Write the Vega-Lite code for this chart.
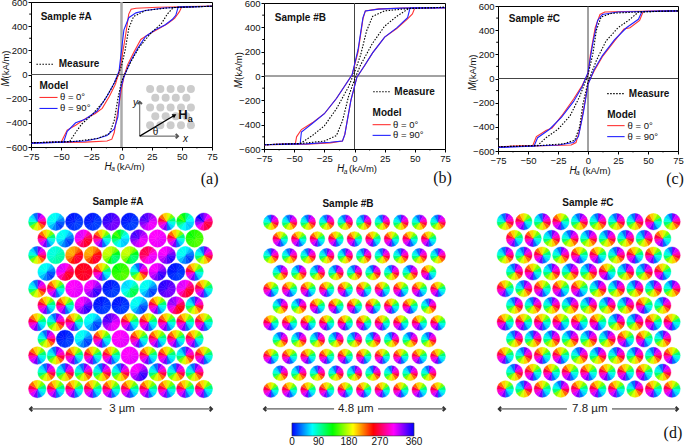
{"$schema":"https://vega.github.io/schema/vega-lite/v6.json","padding":{"left":0,"top":-4,"right":0,"bottom":0},"background":"white","config":{"view":{"stroke":null},"font":"Liberation Sans","axis":{"domainColor":"#000","tickColor":"#000","labelColor":"#111","labelFontSize":9.5,"labelPadding":1,"tickSize":3,"grid":false,"title":null,"labelOverlap":false,"labelFlush":false}},
"datasets":{
"mx":[{"x":-62.5,"y":-600,"y2":-612},{"x":-37.5,"y":-600,"y2":-612},{"x":-12.5,"y":-600,"y2":-612},{"x":12.5,"y":-600,"y2":-612},{"x":37.5,"y":-600,"y2":-612},{"x":62.5,"y":-600,"y2":-612}],
"my":[{"x":-75,"x2":-76.5,"y":-500},{"x":-75,"x2":-76.5,"y":-300},{"x":-75,"x2":-76.5,"y":-100},{"x":-75,"x2":-76.5,"y":100},{"x":-75,"x2":-76.5,"y":300},{"x":-75,"x2":-76.5,"y":500}],
"kinds":[
{"k":"p","h":[345,315,285,255,225,195,165,135,105,75,45,15],"t":[0,30,60,90,120,150,180,210,240,270,300,330],"u":[30,60,90,120,150,180,210,240,270,300,330,360]},
{"k":"n","h":[165,135,105,75,45,15,345,315,285,255,225,195],"t":[0,30,60,90,120,150,180,210,240,270,300,330],"u":[30,60,90,120,150,180,210,240,270,300,330,360]},
{"k":"cb","h":[54,38,21,10,5,10,21,38,54,65,70,65],"t":[0,30,60,90,120,150,180,210,240,270,300,330],"u":[30,60,90,120,150,180,210,240,270,300,330,360]},
{"k":"b","h":[2,3,4,5,6,5,4,3,2,1,1,1],"t":[0,30,60,90,120,150,180,210,240,270,300,330],"u":[30,60,90,120,150,180,210,240,270,300,330,360]},
{"k":"bb","h":[355,352,348,346,345,346,348,352,355,357,358,357],"t":[0,30,60,90,120,150,180,210,240,270,300,330],"u":[30,60,90,120,150,180,210,240,270,300,330,360]},
{"k":"bm","h":[342,330,317,308,305,308,317,330,342,351,355,351],"t":[0,30,60,90,120,150,180,210,240,270,300,330],"u":[30,60,90,120,150,180,210,240,270,300,330,360]},
{"k":"mb","h":[315,329,344,354,358,354,344,329,315,304,300,304],"t":[0,30,60,90,120,150,180,210,240,270,300,330],"u":[30,60,90,120,150,180,210,240,270,300,330,360]},
{"k":"m","h":[302,304,306,308,310,308,306,304,302,300,300,300],"t":[0,30,60,90,120,150,180,210,240,270,300,330],"u":[30,60,90,120,150,180,210,240,270,300,330,360]},
{"k":"r","h":[245,245,246,247,248,247,246,245,245,244,243,244],"t":[0,30,60,90,120,150,180,210,240,270,300,330],"u":[30,60,90,120,150,180,210,240,270,300,330,360]},
{"k":"ro","h":[216,228,239,247,250,247,239,228,216,208,205,208],"t":[0,30,60,90,120,150,180,210,240,270,300,330],"u":[30,60,90,120,150,180,210,240,270,300,330,360]},
{"k":"rm","h":[269,283,296,306,310,306,296,283,269,259,255,259],"t":[0,30,60,90,120,150,180,210,240,270,300,330],"u":[30,60,90,120,150,180,210,240,270,300,330,360]},
{"k":"mr","h":[298,280,263,250,245,250,263,280,298,310,315,310],"t":[0,30,60,90,120,150,180,210,240,270,300,330],"u":[30,60,90,120,150,180,210,240,270,300,330,360]},
{"k":"br","h":[332,305,277,258,250,258,277,305,332,352,360,352],"t":[0,30,60,90,120,150,180,210,240,270,300,330],"u":[30,60,90,120,150,180,210,240,270,300,330,360]},
{"k":"rb","h":[315,290,265,247,240,247,265,290,315,333,340,333],"t":[0,30,60,90,120,150,180,210,240,270,300,330],"u":[30,60,90,120,150,180,210,240,270,300,330,360]},
{"k":"g","h":[122,123,124,126,128,126,124,123,122,121,120,121],"t":[0,30,60,90,120,150,180,210,240,270,300,330],"u":[30,60,90,120,150,180,210,240,270,300,330,360]},
{"k":"c","h":[80,85,90,94,95,94,90,85,80,76,75,76],"t":[0,30,60,90,120,150,180,210,240,270,300,330],"u":[30,60,90,120,150,180,210,240,270,300,330,360]},
{"k":"yg","h":[146,132,119,109,105,109,119,132,146,156,160,156],"t":[0,30,60,90,120,150,180,210,240,270,300,330],"u":[30,60,90,120,150,180,210,240,270,300,330,360]},
{"k":"cg","h":[62,80,97,110,115,110,97,80,62,50,45,50],"t":[0,30,60,90,120,150,180,210,240,270,300,330],"u":[30,60,90,120,150,180,210,240,270,300,330,360]},
{"k":"gc","h":[104,82,61,46,40,46,61,82,104,119,125,119],"t":[0,30,60,90,120,150,180,210,240,270,300,330],"u":[30,60,90,120,150,180,210,240,270,300,330,360]}
],
"da":[
{"x":1,"y":1,"k":"p"},{"x":2,"y":1,"k":"cb"},{"x":3,"y":1,"k":"b"},{"x":4,"y":1,"k":"b"},{"x":5,"y":1,"k":"bb"},{"x":6,"y":1,"k":"b"},{"x":7,"y":1,"k":"bm"},{"x":8,"y":1,"k":"n"},{"x":9,"y":1,"k":"gc"},{"x":10,"y":1,"k":"br"},
{"x":1.5,"y":2,"k":"n"},{"x":2.5,"y":2,"k":"cb"},{"x":3.5,"y":2,"k":"mr"},{"x":4.5,"y":2,"k":"n"},{"x":5.5,"y":2,"k":"gc"},{"x":6.5,"y":2,"k":"bm"},{"x":7.5,"y":2,"k":"m"},{"x":8.5,"y":2,"k":"n"},{"x":9.5,"y":2,"k":"g"},
{"x":1,"y":3,"k":"p"},{"x":2,"y":3,"k":"c"},{"x":3,"y":3,"k":"ro"},{"x":4,"y":3,"k":"ro"},{"x":5,"y":3,"k":"yg"},{"x":6,"y":3,"k":"yg"},{"x":7,"y":3,"k":"rm"},{"x":8,"y":3,"k":"mb"},{"x":9,"y":3,"k":"cb"},{"x":10,"y":3,"k":"p"},
{"x":1.5,"y":4,"k":"cb"},{"x":2.5,"y":4,"k":"mr"},{"x":3.5,"y":4,"k":"r"},{"x":4.5,"y":4,"k":"n"},{"x":5.5,"y":4,"k":"g"},{"x":6.5,"y":4,"k":"p"},{"x":7.5,"y":4,"k":"mb"},{"x":8.5,"y":4,"k":"b"},{"x":9.5,"y":4,"k":"n"},
{"x":1,"y":5,"k":"p"},{"x":2,"y":5,"k":"n"},{"x":3,"y":5,"k":"m"},{"x":4,"y":5,"k":"mb"},{"x":5,"y":5,"k":"b"},{"x":6,"y":5,"k":"cg"},{"x":7,"y":5,"k":"cb"},{"x":8,"y":5,"k":"bb"},{"x":9,"y":5,"k":"mr"},{"x":10,"y":5,"k":"n"},
{"x":1.5,"y":6,"k":"n"},{"x":2.5,"y":6,"k":"n"},{"x":3.5,"y":6,"k":"mb"},{"x":4.5,"y":6,"k":"b"},{"x":5.5,"y":6,"k":"b"},{"x":6.5,"y":6,"k":"cb"},{"x":7.5,"y":6,"k":"n"},{"x":8.5,"y":6,"k":"rb"},{"x":9.5,"y":6,"k":"p"},
{"x":1,"y":7,"k":"n"},{"x":2,"y":7,"k":"p"},{"x":3,"y":7,"k":"n"},{"x":4,"y":7,"k":"cb"},{"x":5,"y":7,"k":"bm"},{"x":6,"y":7,"k":"n"},{"x":7,"y":7,"k":"n"},{"x":8,"y":7,"k":"n"},{"x":9,"y":7,"k":"n"},{"x":10,"y":7,"k":"n"},
{"x":1.5,"y":8,"k":"p"},{"x":2.5,"y":8,"k":"b"},{"x":3.5,"y":8,"k":"cb"},{"x":4.5,"y":8,"k":"n"},{"x":5.5,"y":8,"k":"m"},{"x":6.5,"y":8,"k":"n"},{"x":7.5,"y":8,"k":"n"},{"x":8.5,"y":8,"k":"n"},{"x":9.5,"y":8,"k":"n"},
{"x":1,"y":9,"k":"n"},{"x":2,"y":9,"k":"p"},{"x":3,"y":9,"k":"n"},{"x":4,"y":9,"k":"n"},{"x":5,"y":9,"k":"n"},{"x":6,"y":9,"k":"m"},{"x":7,"y":9,"k":"n"},{"x":8,"y":9,"k":"n"},{"x":9,"y":9,"k":"p"},{"x":10,"y":9,"k":"n"},
{"x":1.5,"y":10,"k":"p"},{"x":2.5,"y":10,"k":"p"},{"x":3.5,"y":10,"k":"p"},{"x":4.5,"y":10,"k":"p"},{"x":5.5,"y":10,"k":"p"},{"x":6.5,"y":10,"k":"mb"},{"x":7.5,"y":10,"k":"p"},{"x":8.5,"y":10,"k":"p"},{"x":9.5,"y":10,"k":"p"},
{"x":1,"y":11,"k":"n"},{"x":2,"y":11,"k":"n"},{"x":3,"y":11,"k":"n"},{"x":4,"y":11,"k":"n"},{"x":5,"y":11,"k":"n"},{"x":6,"y":11,"k":"n"},{"x":7,"y":11,"k":"n"},{"x":8,"y":11,"k":"n"},{"x":9,"y":11,"k":"n"},{"x":10,"y":11,"k":"n"}
],
"db":[
{"x":1,"y":1,"k":"p"},{"x":2,"y":1,"k":"p"},{"x":3,"y":1,"k":"p"},{"x":4,"y":1,"k":"p"},{"x":5,"y":1,"k":"p"},{"x":6,"y":1,"k":"p"},{"x":7,"y":1,"k":"p"},{"x":8,"y":1,"k":"p"},{"x":9,"y":1,"k":"p"},{"x":10,"y":1,"k":"p"},
{"x":1.5,"y":2,"k":"n"},{"x":2.5,"y":2,"k":"n"},{"x":3.5,"y":2,"k":"n"},{"x":4.5,"y":2,"k":"n"},{"x":5.5,"y":2,"k":"n"},{"x":6.5,"y":2,"k":"n"},{"x":7.5,"y":2,"k":"n"},{"x":8.5,"y":2,"k":"n"},{"x":9.5,"y":2,"k":"n"},
{"x":1,"y":3,"k":"p"},{"x":2,"y":3,"k":"p"},{"x":3,"y":3,"k":"p"},{"x":4,"y":3,"k":"p"},{"x":5,"y":3,"k":"p"},{"x":6,"y":3,"k":"p"},{"x":7,"y":3,"k":"p"},{"x":8,"y":3,"k":"p"},{"x":9,"y":3,"k":"p"},{"x":10,"y":3,"k":"p"},
{"x":1.5,"y":4,"k":"p"},{"x":2.5,"y":4,"k":"p"},{"x":3.5,"y":4,"k":"p"},{"x":4.5,"y":4,"k":"p"},{"x":5.5,"y":4,"k":"p"},{"x":6.5,"y":4,"k":"p"},{"x":7.5,"y":4,"k":"p"},{"x":8.5,"y":4,"k":"p"},{"x":9.5,"y":4,"k":"n"},
{"x":1,"y":5,"k":"n"},{"x":2,"y":5,"k":"n"},{"x":3,"y":5,"k":"n"},{"x":4,"y":5,"k":"n"},{"x":5,"y":5,"k":"n"},{"x":6,"y":5,"k":"n"},{"x":7,"y":5,"k":"n"},{"x":8,"y":5,"k":"n"},{"x":9,"y":5,"k":"n"},{"x":10,"y":5,"k":"n"},
{"x":1.5,"y":6,"k":"p"},{"x":2.5,"y":6,"k":"p"},{"x":3.5,"y":6,"k":"n"},{"x":4.5,"y":6,"k":"n"},{"x":5.5,"y":6,"k":"n"},{"x":6.5,"y":6,"k":"n"},{"x":7.5,"y":6,"k":"n"},{"x":8.5,"y":6,"k":"n"},{"x":9.5,"y":6,"k":"p"},
{"x":1,"y":7,"k":"n"},{"x":2,"y":7,"k":"n"},{"x":3,"y":7,"k":"n"},{"x":4,"y":7,"k":"n"},{"x":5,"y":7,"k":"n"},{"x":6,"y":7,"k":"n"},{"x":7,"y":7,"k":"n"},{"x":8,"y":7,"k":"n"},{"x":9,"y":7,"k":"n"},{"x":10,"y":7,"k":"n"},
{"x":1.5,"y":8,"k":"p"},{"x":2.5,"y":8,"k":"p"},{"x":3.5,"y":8,"k":"p"},{"x":4.5,"y":8,"k":"p"},{"x":5.5,"y":8,"k":"p"},{"x":6.5,"y":8,"k":"p"},{"x":7.5,"y":8,"k":"p"},{"x":8.5,"y":8,"k":"p"},{"x":9.5,"y":8,"k":"p"},
{"x":1,"y":9,"k":"n"},{"x":2,"y":9,"k":"n"},{"x":3,"y":9,"k":"n"},{"x":4,"y":9,"k":"n"},{"x":5,"y":9,"k":"n"},{"x":6,"y":9,"k":"n"},{"x":7,"y":9,"k":"n"},{"x":8,"y":9,"k":"n"},{"x":9,"y":9,"k":"n"},{"x":10,"y":9,"k":"n"},
{"x":1.5,"y":10,"k":"p"},{"x":2.5,"y":10,"k":"p"},{"x":3.5,"y":10,"k":"p"},{"x":4.5,"y":10,"k":"p"},{"x":5.5,"y":10,"k":"p"},{"x":6.5,"y":10,"k":"p"},{"x":7.5,"y":10,"k":"p"},{"x":8.5,"y":10,"k":"p"},{"x":9.5,"y":10,"k":"p"},
{"x":1,"y":11,"k":"n"},{"x":2,"y":11,"k":"n"},{"x":3,"y":11,"k":"n"},{"x":4,"y":11,"k":"n"},{"x":5,"y":11,"k":"n"},{"x":6,"y":11,"k":"n"},{"x":7,"y":11,"k":"n"},{"x":8,"y":11,"k":"n"},{"x":9,"y":11,"k":"n"},{"x":10,"y":11,"k":"n"}
],
"dc":[
{"x":1,"y":1,"k":"p"},{"x":2,"y":1,"k":"n"},{"x":3,"y":1,"k":"p"},{"x":4,"y":1,"k":"n"},{"x":5,"y":1,"k":"p"},{"x":6,"y":1,"k":"p"},{"x":7,"y":1,"k":"p"},{"x":8,"y":1,"k":"p"},{"x":9,"y":1,"k":"n"},{"x":10,"y":1,"k":"p"},
{"x":1.5,"y":2,"k":"n"},{"x":2.5,"y":2,"k":"n"},{"x":3.5,"y":2,"k":"p"},{"x":4.5,"y":2,"k":"p"},{"x":5.5,"y":2,"k":"p"},{"x":6.5,"y":2,"k":"p"},{"x":7.5,"y":2,"k":"p"},{"x":8.5,"y":2,"k":"p"},{"x":9.5,"y":2,"k":"n"},
{"x":1,"y":3,"k":"p"},{"x":2,"y":3,"k":"p"},{"x":3,"y":3,"k":"n"},{"x":4,"y":3,"k":"p"},{"x":5,"y":3,"k":"n"},{"x":6,"y":3,"k":"n"},{"x":7,"y":3,"k":"p"},{"x":8,"y":3,"k":"n"},{"x":9,"y":3,"k":"n"},{"x":10,"y":3,"k":"p"},
{"x":1.5,"y":4,"k":"p"},{"x":2.5,"y":4,"k":"n"},{"x":3.5,"y":4,"k":"p"},{"x":4.5,"y":4,"k":"p"},{"x":5.5,"y":4,"k":"p"},{"x":6.5,"y":4,"k":"n"},{"x":7.5,"y":4,"k":"p"},{"x":8.5,"y":4,"k":"p"},{"x":9.5,"y":4,"k":"n"},
{"x":1,"y":5,"k":"n"},{"x":2,"y":5,"k":"p"},{"x":3,"y":5,"k":"n"},{"x":4,"y":5,"k":"n"},{"x":5,"y":5,"k":"n"},{"x":6,"y":5,"k":"p"},{"x":7,"y":5,"k":"p"},{"x":8,"y":5,"k":"p"},{"x":9,"y":5,"k":"p"},{"x":10,"y":5,"k":"p"},
{"x":1.5,"y":6,"k":"p"},{"x":2.5,"y":6,"k":"p"},{"x":3.5,"y":6,"k":"p"},{"x":4.5,"y":6,"k":"p"},{"x":5.5,"y":6,"k":"p"},{"x":6.5,"y":6,"k":"p"},{"x":7.5,"y":6,"k":"p"},{"x":8.5,"y":6,"k":"n"},{"x":9.5,"y":6,"k":"p"},
{"x":1,"y":7,"k":"n"},{"x":2,"y":7,"k":"n"},{"x":3,"y":7,"k":"n"},{"x":4,"y":7,"k":"n"},{"x":5,"y":7,"k":"n"},{"x":6,"y":7,"k":"n"},{"x":7,"y":7,"k":"p"},{"x":8,"y":7,"k":"p"},{"x":9,"y":7,"k":"n"},{"x":10,"y":7,"k":"n"},
{"x":1.5,"y":8,"k":"p"},{"x":2.5,"y":8,"k":"p"},{"x":3.5,"y":8,"k":"p"},{"x":4.5,"y":8,"k":"p"},{"x":5.5,"y":8,"k":"p"},{"x":6.5,"y":8,"k":"p"},{"x":7.5,"y":8,"k":"n"},{"x":8.5,"y":8,"k":"n"},{"x":9.5,"y":8,"k":"p"},
{"x":1,"y":9,"k":"n"},{"x":2,"y":9,"k":"p"},{"x":3,"y":9,"k":"n"},{"x":4,"y":9,"k":"n"},{"x":5,"y":9,"k":"p"},{"x":6,"y":9,"k":"p"},{"x":7,"y":9,"k":"p"},{"x":8,"y":9,"k":"p"},{"x":9,"y":9,"k":"p"},{"x":10,"y":9,"k":"n"},
{"x":1.5,"y":10,"k":"p"},{"x":2.5,"y":10,"k":"n"},{"x":3.5,"y":10,"k":"n"},{"x":4.5,"y":10,"k":"n"},{"x":5.5,"y":10,"k":"n"},{"x":6.5,"y":10,"k":"n"},{"x":7.5,"y":10,"k":"n"},{"x":8.5,"y":10,"k":"n"},{"x":9.5,"y":10,"k":"p"},
{"x":1,"y":11,"k":"n"},{"x":2,"y":11,"k":"p"},{"x":3,"y":11,"k":"n"},{"x":4,"y":11,"k":"p"},{"x":5,"y":11,"k":"n"},{"x":6,"y":11,"k":"n"},{"x":7,"y":11,"k":"n"},{"x":8,"y":11,"k":"p"},{"x":9,"y":11,"k":"n"},{"x":10,"y":11,"k":"n"}
],
"ca":[
{"s":"r","b":"d","x":75,"y":565},{"s":"r","b":"d","x":50,"y":562},{"s":"r","b":"d","x":48,"y":520},{"s":"r","b":"d","x":44,"y":465},{"s":"r","b":"d","x":38,"y":420},{"s":"r","b":"d","x":30,"y":375},{"s":"r","b":"d","x":22,"y":330},{"s":"r","b":"d","x":16,"y":290},{"s":"r","b":"d","x":10,"y":180},{"s":"r","b":"d","x":5,"y":80},{"s":"r","b":"d","x":2,"y":-20},{"s":"r","b":"d","x":0,"y":-120},{"s":"r","b":"d","x":-3,"y":-300},{"s":"r","b":"d","x":-6,"y":-480},{"s":"r","b":"d","x":-8,"y":-535},{"s":"r","b":"d","x":-12,"y":-550},{"s":"r","b":"d","x":-30,"y":-560},{"s":"r","b":"d","x":-75,"y":-565},
{"s":"r","b":"a","x":-75,"y":-565},{"s":"r","b":"a","x":-50,"y":-560},{"s":"r","b":"a","x":-48,"y":-520},{"s":"r","b":"a","x":-45,"y":-460},{"s":"r","b":"a","x":-38,"y":-420},{"s":"r","b":"a","x":-30,"y":-365},{"s":"r","b":"a","x":-22,"y":-325},{"s":"r","b":"a","x":-16,"y":-280},{"s":"r","b":"a","x":-10,"y":-180},{"s":"r","b":"a","x":-5,"y":-80},{"s":"r","b":"a","x":-2,"y":20},{"s":"r","b":"a","x":0,"y":120},{"s":"r","b":"a","x":3,"y":300},{"s":"r","b":"a","x":6,"y":500},{"s":"r","b":"a","x":8,"y":540},{"s":"r","b":"a","x":12,"y":548},{"s":"r","b":"a","x":30,"y":556},{"s":"r","b":"a","x":75,"y":565},
{"s":"l","b":"d","x":75,"y":565},{"s":"l","b":"d","x":47,"y":560},{"s":"l","b":"d","x":45,"y":490},{"s":"l","b":"d","x":42,"y":455},{"s":"l","b":"d","x":36,"y":410},{"s":"l","b":"d","x":28,"y":370},{"s":"l","b":"d","x":20,"y":315},{"s":"l","b":"d","x":13,"y":210},{"s":"l","b":"d","x":7,"y":100},{"s":"l","b":"d","x":2,"y":-20},{"s":"l","b":"d","x":-1,"y":-130},{"s":"l","b":"d","x":-3,"y":-350},{"s":"l","b":"d","x":-6,"y":-450},{"s":"l","b":"d","x":-12,"y":-505},{"s":"l","b":"d","x":-20,"y":-530},{"s":"l","b":"d","x":-30,"y":-550},{"s":"l","b":"d","x":-50,"y":-560},{"s":"l","b":"d","x":-75,"y":-568},
{"s":"l","b":"a","x":-75,"y":-568},{"s":"l","b":"a","x":-48,"y":-560},{"s":"l","b":"a","x":-45,"y":-470},{"s":"l","b":"a","x":-38,"y":-400},{"s":"l","b":"a","x":-30,"y":-370},{"s":"l","b":"a","x":-20,"y":-300},{"s":"l","b":"a","x":-12,"y":-180},{"s":"l","b":"a","x":-6,"y":-70},{"s":"l","b":"a","x":-2,"y":30},{"s":"l","b":"a","x":0,"y":200},{"s":"l","b":"a","x":2,"y":370},{"s":"l","b":"a","x":6,"y":470},{"s":"l","b":"a","x":12,"y":510},{"s":"l","b":"a","x":20,"y":530},{"s":"l","b":"a","x":35,"y":550},{"s":"l","b":"a","x":75,"y":565},
{"s":"m","b":"d","x":75,"y":565},{"s":"m","b":"d","x":43,"y":555},{"s":"m","b":"d","x":38,"y":500},{"s":"m","b":"d","x":33,"y":420},{"s":"m","b":"d","x":25,"y":350},{"s":"m","b":"d","x":15,"y":230},{"s":"m","b":"d","x":8,"y":110},{"s":"m","b":"d","x":3,"y":10},{"s":"m","b":"d","x":0,"y":-60},{"s":"m","b":"d","x":-3,"y":-200},{"s":"m","b":"d","x":-6,"y":-380},{"s":"m","b":"d","x":-10,"y":-490},{"s":"m","b":"d","x":-20,"y":-530},{"s":"m","b":"d","x":-40,"y":-555},{"s":"m","b":"d","x":-75,"y":-565},
{"s":"m","b":"a","x":-75,"y":-565},{"s":"m","b":"a","x":-43,"y":-555},{"s":"m","b":"a","x":-38,"y":-480},{"s":"m","b":"a","x":-33,"y":-410},{"s":"m","b":"a","x":-25,"y":-340},{"s":"m","b":"a","x":-15,"y":-225},{"s":"m","b":"a","x":-8,"y":-110},{"s":"m","b":"a","x":-3,"y":-10},{"s":"m","b":"a","x":0,"y":70},{"s":"m","b":"a","x":3,"y":200},{"s":"m","b":"a","x":6,"y":380},{"s":"m","b":"a","x":10,"y":480},{"s":"m","b":"a","x":20,"y":530},{"s":"m","b":"a","x":40,"y":553},{"s":"m","b":"a","x":75,"y":565}
],
"cb":[
{"s":"r","b":"d","x":75,"y":562},{"s":"r","b":"d","x":50,"y":560},{"s":"r","b":"d","x":48,"y":510},{"s":"r","b":"d","x":44,"y":470},{"s":"r","b":"d","x":35,"y":390},{"s":"r","b":"d","x":25,"y":320},{"s":"r","b":"d","x":15,"y":190},{"s":"r","b":"d","x":8,"y":80},{"s":"r","b":"d","x":2,"y":-10},{"s":"r","b":"d","x":-3,"y":-200},{"s":"r","b":"d","x":-8,"y":-480},{"s":"r","b":"d","x":-10,"y":-535},{"s":"r","b":"d","x":-20,"y":-550},{"s":"r","b":"d","x":-40,"y":-560},{"s":"r","b":"d","x":-75,"y":-565},
{"s":"r","b":"a","x":-75,"y":-565},{"s":"r","b":"a","x":-49,"y":-555},{"s":"r","b":"a","x":-48,"y":-500},{"s":"r","b":"a","x":-44,"y":-440},{"s":"r","b":"a","x":-35,"y":-385},{"s":"r","b":"a","x":-25,"y":-310},{"s":"r","b":"a","x":-15,"y":-185},{"s":"r","b":"a","x":-8,"y":-80},{"s":"r","b":"a","x":-2,"y":10},{"s":"r","b":"a","x":3,"y":200},{"s":"r","b":"a","x":7,"y":470},{"s":"r","b":"a","x":9,"y":535},{"s":"r","b":"a","x":20,"y":552},{"s":"r","b":"a","x":40,"y":558},{"s":"r","b":"a","x":75,"y":562},
{"s":"l","b":"d","x":75,"y":562},{"s":"l","b":"d","x":46,"y":558},{"s":"l","b":"d","x":44,"y":480},{"s":"l","b":"d","x":35,"y":395},{"s":"l","b":"d","x":25,"y":320},{"s":"l","b":"d","x":15,"y":190},{"s":"l","b":"d","x":8,"y":80},{"s":"l","b":"d","x":2,"y":-10},{"s":"l","b":"d","x":-3,"y":-200},{"s":"l","b":"d","x":-8,"y":-480},{"s":"l","b":"d","x":-10,"y":-535},{"s":"l","b":"d","x":-20,"y":-545},{"s":"l","b":"d","x":-40,"y":-558},{"s":"l","b":"d","x":-75,"y":-565},
{"s":"l","b":"a","x":-75,"y":-565},{"s":"l","b":"a","x":-45,"y":-555},{"s":"l","b":"a","x":-44,"y":-460},{"s":"l","b":"a","x":-35,"y":-390},{"s":"l","b":"a","x":-25,"y":-310},{"s":"l","b":"a","x":-15,"y":-185},{"s":"l","b":"a","x":-8,"y":-80},{"s":"l","b":"a","x":-2,"y":10},{"s":"l","b":"a","x":3,"y":220},{"s":"l","b":"a","x":7,"y":480},{"s":"l","b":"a","x":9,"y":535},{"s":"l","b":"a","x":20,"y":550},{"s":"l","b":"a","x":40,"y":558},{"s":"l","b":"a","x":75,"y":562},
{"s":"m","b":"d","x":75,"y":565},{"s":"m","b":"d","x":45,"y":555},{"s":"m","b":"d","x":35,"y":490},{"s":"m","b":"d","x":25,"y":410},{"s":"m","b":"d","x":15,"y":270},{"s":"m","b":"d","x":5,"y":90},{"s":"m","b":"d","x":0,"y":-30},{"s":"m","b":"d","x":-5,"y":-170},{"s":"m","b":"d","x":-10,"y":-370},{"s":"m","b":"d","x":-15,"y":-490},{"s":"m","b":"d","x":-25,"y":-535},{"s":"m","b":"d","x":-45,"y":-555},{"s":"m","b":"d","x":-75,"y":-565},
{"s":"m","b":"a","x":-75,"y":-565},{"s":"m","b":"a","x":-45,"y":-555},{"s":"m","b":"a","x":-35,"y":-490},{"s":"m","b":"a","x":-25,"y":-410},{"s":"m","b":"a","x":-15,"y":-270},{"s":"m","b":"a","x":-5,"y":-90},{"s":"m","b":"a","x":0,"y":30},{"s":"m","b":"a","x":5,"y":170},{"s":"m","b":"a","x":10,"y":370},{"s":"m","b":"a","x":15,"y":490},{"s":"m","b":"a","x":25,"y":535},{"s":"m","b":"a","x":45,"y":555},{"s":"m","b":"a","x":75,"y":565}
],
"cc":[
{"s":"r","b":"d","x":75,"y":560},{"s":"r","b":"d","x":46,"y":555},{"s":"r","b":"d","x":43,"y":480},{"s":"r","b":"d","x":35,"y":420},{"s":"r","b":"d","x":30,"y":410},{"s":"r","b":"d","x":22,"y":310},{"s":"r","b":"d","x":12,"y":180},{"s":"r","b":"d","x":5,"y":60},{"s":"r","b":"d","x":0,"y":-40},{"s":"r","b":"d","x":-3,"y":-220},{"s":"r","b":"d","x":-7,"y":-430},{"s":"r","b":"d","x":-10,"y":-530},{"s":"r","b":"d","x":-14,"y":-550},{"s":"r","b":"d","x":-30,"y":-555},{"s":"r","b":"d","x":-75,"y":-565},
{"s":"r","b":"a","x":-75,"y":-565},{"s":"r","b":"a","x":-46,"y":-555},{"s":"r","b":"a","x":-43,"y":-480},{"s":"r","b":"a","x":-35,"y":-430},{"s":"r","b":"a","x":-30,"y":-410},{"s":"r","b":"a","x":-22,"y":-310},{"s":"r","b":"a","x":-12,"y":-170},{"s":"r","b":"a","x":-5,"y":-60},{"s":"r","b":"a","x":0,"y":40},{"s":"r","b":"a","x":2,"y":200},{"s":"r","b":"a","x":6,"y":420},{"s":"r","b":"a","x":10,"y":530},{"s":"r","b":"a","x":14,"y":550},{"s":"r","b":"a","x":30,"y":555},{"s":"r","b":"a","x":75,"y":560},
{"s":"l","b":"d","x":75,"y":560},{"s":"l","b":"d","x":45,"y":555},{"s":"l","b":"d","x":42,"y":490},{"s":"l","b":"d","x":32,"y":420},{"s":"l","b":"d","x":22,"y":320},{"s":"l","b":"d","x":12,"y":190},{"s":"l","b":"d","x":5,"y":70},{"s":"l","b":"d","x":0,"y":-50},{"s":"l","b":"d","x":-4,"y":-290},{"s":"l","b":"d","x":-8,"y":-480},{"s":"l","b":"d","x":-12,"y":-530},{"s":"l","b":"d","x":-25,"y":-550},{"s":"l","b":"d","x":-75,"y":-570},
{"s":"l","b":"a","x":-75,"y":-570},{"s":"l","b":"a","x":-45,"y":-560},{"s":"l","b":"a","x":-42,"y":-490},{"s":"l","b":"a","x":-32,"y":-420},{"s":"l","b":"a","x":-22,"y":-320},{"s":"l","b":"a","x":-12,"y":-190},{"s":"l","b":"a","x":-5,"y":-70},{"s":"l","b":"a","x":0,"y":50},{"s":"l","b":"a","x":4,"y":290},{"s":"l","b":"a","x":8,"y":480},{"s":"l","b":"a","x":12,"y":530},{"s":"l","b":"a","x":25,"y":550},{"s":"l","b":"a","x":75,"y":560},
{"s":"m","b":"d","x":75,"y":560},{"s":"m","b":"d","x":42,"y":550},{"s":"m","b":"d","x":35,"y":490},{"s":"m","b":"d","x":25,"y":420},{"s":"m","b":"d","x":15,"y":310},{"s":"m","b":"d","x":7,"y":150},{"s":"m","b":"d","x":0,"y":-30},{"s":"m","b":"d","x":-4,"y":-200},{"s":"m","b":"d","x":-7,"y":-400},{"s":"m","b":"d","x":-11,"y":-510},{"s":"m","b":"d","x":-20,"y":-540},{"s":"m","b":"d","x":-40,"y":-555},{"s":"m","b":"d","x":-75,"y":-565},
{"s":"m","b":"a","x":-75,"y":-565},{"s":"m","b":"a","x":-42,"y":-555},{"s":"m","b":"a","x":-35,"y":-490},{"s":"m","b":"a","x":-25,"y":-420},{"s":"m","b":"a","x":-15,"y":-310},{"s":"m","b":"a","x":-7,"y":-150},{"s":"m","b":"a","x":0,"y":30},{"s":"m","b":"a","x":4,"y":200},{"s":"m","b":"a","x":7,"y":400},{"s":"m","b":"a","x":11,"y":510},{"s":"m","b":"a","x":20,"y":540},{"s":"m","b":"a","x":40,"y":550},{"s":"m","b":"a","x":75,"y":560}
]
},
"hconcat":[
{"spacing":0,"bounds":"flush","vconcat":[
{"width":181,"height":5,"data":{"values":[{"x":0}]},"mark":{"type":"point","opacity":0},"encoding":{"x":{"field":"x","type":"quantitative","axis":null}}},
{"width":181,"height":145,"view":{"stroke":"#000"},
"encoding":{"x":{"field":"x","type":"quantitative","scale":{"domain":[-75,75],"nice":false,"zero":false},"axis":{"values":[-75,-50,-25,0,25,50,75]}},"y":{"field":"y","type":"quantitative","scale":{"domain":[-600,600],"nice":false,"zero":false},"axis":{"values":[-600,-400,-200,0,200,400,600]}}},
"layer":[
{"data":{"name":"mx"},"mark":{"type":"rule","color":"#000"},"encoding":{"y2":{"field":"y2"}}},
{"data":{"name":"my"},"mark":{"type":"rule","color":"#000"},"encoding":{"x2":{"field":"x2"}}},
{"data":{"values":[{"x":0,"y":-600,"y2":600}]},"mark":{"type":"rule","color":"#aaa","strokeWidth":2.5},"encoding":{"y2":{"field":"y2"}}},
{"data":{"values":[{"x":-75,"y":0,"x2":75}]},"mark":{"type":"rule","color":"#555","strokeWidth":1},"encoding":{"x2":{"field":"x2"}}},
{"data":{"values":[{"x":23.7,"y":-121},{"x":32.2,"y":-121},{"x":40.7,"y":-121},{"x":49.3,"y":-121},{"x":57.5,"y":-121},{"x":28,"y":-193},{"x":36.6,"y":-193},{"x":45,"y":-193},{"x":53.7,"y":-193},{"x":23.7,"y":-273},{"x":32.2,"y":-273},{"x":40.7,"y":-273},{"x":49.3,"y":-273},{"x":57.5,"y":-273},{"x":28,"y":-345},{"x":36.6,"y":-345},{"x":45,"y":-345},{"x":53.7,"y":-345},{"x":23.7,"y":-419},{"x":32.2,"y":-419},{"x":40.7,"y":-419},{"x":49.3,"y":-419},{"x":57.5,"y":-419}]},"mark":{"type":"point","shape":"circle","filled":true,"size":64,"color":"#ccc","opacity":1}},
{"data":{"values":[{"x":15.1,"y":-510,"x2":46.8,"y2":-510},{"x":15.1,"y":-510,"x2":15.1,"y2":-226}]},"mark":{"type":"rule","color":"#555","strokeWidth":1},"encoding":{"x2":{"field":"x2"},"y2":{"field":"y2"}}},
{"data":{"values":[{"x":15.1,"y":-510,"x2":44,"y2":-337}]},"mark":{"type":"rule","color":"#000","strokeWidth":1.2},"encoding":{"x2":{"field":"x2"},"y2":{"field":"y2"}}},
{"data":{"values":[{"x":44,"y":-337}]},"mark":{"type":"point","shape":"triangle-up","filled":true,"size":22,"angle":60,"color":"#000","opacity":1}},
{"data":{"values":[{"x":46.8,"y":-510}]},"mark":{"type":"point","shape":"M-1,-1L0,0L-1,1","size":20,"color":"#555","opacity":1}},
{"data":{"values":[{"x":15.1,"y":-226}]},"mark":{"type":"point","shape":"M-1,1L0,0L1,1","size":20,"color":"#555","opacity":1}},
{"data":{"name":"ca"},"transform":[{"filter":"datum.s=='r'"}],"mark":{"type":"line","color":"#f33","strokeWidth":1.1},"encoding":{"detail":{"field":"b"}}},
{"data":{"name":"ca"},"transform":[{"filter":"datum.s=='l'"}],"mark":{"type":"line","color":"#22f","strokeWidth":1.1},"encoding":{"detail":{"field":"b"}}},
{"data":{"name":"ca"},"transform":[{"filter":"datum.s=='m'"}],"mark":{"type":"line","color":"#000","strokeWidth":1.1,"strokeDash":[1.5,1.5]},"encoding":{"detail":{"field":"b"}}},
{"data":{"values":[{"x":-70.5,"x2":-56,"y":85}]},"mark":{"type":"rule","color":"#000","strokeWidth":1.1,"strokeDash":[1.5,1.5]},"encoding":{"x2":{"field":"x2"}}},
{"data":{"values":[{"x":-68,"x2":-53,"y":-190}]},"mark":{"type":"rule","color":"#f33","strokeWidth":1.1},"encoding":{"x2":{"field":"x2"}}},
{"data":{"values":[{"x":-68,"x2":-53,"y":-281}]},"mark":{"type":"rule","color":"#22f","strokeWidth":1.1},"encoding":{"x2":{"field":"x2"}}},
{"data":{"values":[{"x":-67,"y":477,"t":"Sample #A"},{"x":-52,"y":85,"t":"Measure"},{"x":-68,"y":-97,"t":"Model"}]},"mark":{"type":"text","font":"Liberation Sans","fontWeight":"bold","fontSize":10,"align":"left","color":"#111"},"encoding":{"text":{"field":"t"}}},
{"data":{"values":[{"x":-51,"y":-190,"t":"θ = 0°"},{"x":-51,"y":-281,"t":"θ = 90°"},{"x":-4,"y":-764,"t":"(kA/m)"}]},"mark":{"type":"text","fontSize":9.5,"align":"left","color":"#111"},"encoding":{"text":{"field":"t"}}},
{"data":{"values":[{"x":-14,"y":-764,"t":"H"},{"x":9.6,"y":-235,"t":"y"},{"x":51,"y":-530,"t":"x"}]},"mark":{"type":"text","fontSize":10,"fontStyle":"italic","align":"left","color":"#111"},"encoding":{"text":{"field":"t"}}},
{"data":{"values":[{"x":-8.5,"y":-785,"t":"a"}]},"mark":{"type":"text","fontSize":6.5,"fontStyle":"italic","align":"left","color":"#111"},"encoding":{"text":{"field":"t"}}},
{"data":{"values":[{"x":-96,"y":-100,"t":"M"}]},"mark":{"type":"text","fontSize":10,"fontStyle":"italic","align":"left","angle":270,"color":"#111"},"encoding":{"text":{"field":"t"}}},
{"data":{"values":[{"x":-96,"y":-33,"t":"(kA/m)"}]},"mark":{"type":"text","fontSize":9.5,"align":"left","angle":270,"color":"#111"},"encoding":{"text":{"field":"t"}}},
{"data":{"values":[{"x":47,"y":-337,"t":"H"}]},"mark":{"type":"text","fontSize":13,"fontWeight":"bold","align":"left","color":"#111"},"encoding":{"text":{"field":"t"}}},
{"data":{"values":[{"x":55,"y":-370,"t":"a"}]},"mark":{"type":"text","fontSize":9,"fontWeight":"bold","align":"left","color":"#111"},"encoding":{"text":{"field":"t"}}},
{"data":{"values":[{"x":26,"y":-474,"t":"θ"}]},"mark":{"type":"text","fontSize":10,"align":"left","color":"#111"},"encoding":{"text":{"field":"t"}}},
{"data":{"values":[{"x":73,"y":-863,"t":"(a)"}]},"mark":{"type":"text","font":"Liberation Serif","fontSize":16,"align":"center","color":"#111"},"encoding":{"text":{"field":"t"}}}
]},
{"width":181,"height":277,
"encoding":{"x":{"field":"x","type":"quantitative","scale":{"domain":[0.659,10.443],"nice":false,"zero":false},"axis":null},"y":{"field":"y","type":"quantitative","scale":{"domain":[-3.465,13.09],"nice":false,"zero":false,"reverse":true},"axis":null}},
"layer":[
{"data":{"name":"da"},"transform":[{"lookup":"k","from":{"data":{"name":"kinds"},"key":"k","fields":["h","t","u"]}},{"flatten":["h","t","u"]}],"mark":{"type":"arc","outerRadius":8.7,"strokeWidth":0.4},"encoding":{"theta":{"field":"t","type":"quantitative","stack":null,"scale":{"domain":[0,360],"range":[0,6.28319]}},"theta2":{"field":"u"},"color":{"field":"h","type":"quantitative","legend":null,"scale":{"domain":[0,60,120,180,240,300,360],"range":["#0000ff","#00ffff","#00ff00","#ffff00","#ff0000","#ff00ff","#0000ff"]}},"stroke":{"field":"h","type":"quantitative","legend":null,"scale":{"domain":[0,60,120,180,240,300,360],"range":["#0000ff","#00ffff","#00ff00","#ffff00","#ff0000","#ff00ff","#0000ff"]}}}},
{"data":{"values":[{"x":0.605,"x2":4.48,"y":12.19},{"x":6.55,"x2":10.44,"y":12.19}]},"mark":{"type":"rule","color":"#333","strokeWidth":1},"encoding":{"x2":{"field":"x2"}}},
{"data":{"values":[{"x":0.605,"y":12.19}]},"mark":{"type":"point","shape":"M1,-1L0,0L1,1","size":20,"color":"#333","opacity":1}},
{"data":{"values":[{"x":10.44,"y":12.19}]},"mark":{"type":"point","shape":"M-1,-1L0,0L-1,1","size":20,"color":"#333","opacity":1}},
{"data":{"values":[{"x":5.58,"y":12.19,"t":"3 µm"}]},"mark":{"type":"text","fontSize":11.5,"color":"#222"},"encoding":{"text":{"field":"t"}}},
{"data":{"values":[{"x":5.36,"y":-0.18,"t":"Sample #A"}]},"mark":{"type":"text","fontSize":10,"fontWeight":"bold","color":"#111"},"encoding":{"text":{"field":"t"}}}
]}
]},
{"spacing":0,"bounds":"flush","vconcat":[
{"width":181,"height":6,"data":{"values":[{"x":0}]},"mark":{"type":"point","opacity":0},"encoding":{"x":{"field":"x","type":"quantitative","axis":null}}},
{"width":181,"height":146,"view":{"stroke":"#000"},
"encoding":{"x":{"field":"x","type":"quantitative","scale":{"domain":[-75,75],"nice":false,"zero":false},"axis":{"values":[-75,-50,-25,0,25,50,75]}},"y":{"field":"y","type":"quantitative","scale":{"domain":[-600,600],"nice":false,"zero":false},"axis":{"values":[-600,-400,-200,0,200,400,600]}}},
"layer":[
{"data":{"name":"mx"},"mark":{"type":"rule","color":"#000"},"encoding":{"y2":{"field":"y2"}}},
{"data":{"name":"my"},"mark":{"type":"rule","color":"#000"},"encoding":{"x2":{"field":"x2"}}},
{"data":{"values":[{"x":0,"y":-600,"y2":600}]},"mark":{"type":"rule","color":"#444","strokeWidth":1},"encoding":{"y2":{"field":"y2"}}},
{"data":{"values":[{"x":-75,"y":0,"x2":75}]},"mark":{"type":"rule","color":"#444","strokeWidth":1},"encoding":{"x2":{"field":"x2"}}},
{"data":{"name":"cb"},"transform":[{"filter":"datum.s=='r'"}],"mark":{"type":"line","color":"#f33","strokeWidth":1.1},"encoding":{"detail":{"field":"b"}}},
{"data":{"name":"cb"},"transform":[{"filter":"datum.s=='l'"}],"mark":{"type":"line","color":"#22f","strokeWidth":1.1},"encoding":{"detail":{"field":"b"}}},
{"data":{"name":"cb"},"transform":[{"filter":"datum.s=='m'"}],"mark":{"type":"line","color":"#000","strokeWidth":1.1,"strokeDash":[1.5,1.5]},"encoding":{"detail":{"field":"b"}}},
{"data":{"values":[{"x":15.5,"x2":30,"y":-129}]},"mark":{"type":"rule","color":"#000","strokeWidth":1.1,"strokeDash":[1.5,1.5]},"encoding":{"x2":{"field":"x2"}}},
{"data":{"values":[{"x":15,"x2":30,"y":-400}]},"mark":{"type":"rule","color":"#f33","strokeWidth":1.1},"encoding":{"x2":{"field":"x2"}}},
{"data":{"values":[{"x":15,"x2":30,"y":-488}]},"mark":{"type":"rule","color":"#22f","strokeWidth":1.1},"encoding":{"x2":{"field":"x2"}}},
{"data":{"values":[{"x":-66,"y":477,"t":"Sample #B"},{"x":33,"y":-129,"t":"Measure"},{"x":15,"y":-304,"t":"Model"}]},"mark":{"type":"text","fontWeight":"bold","fontSize":10,"align":"left","color":"#111"},"encoding":{"text":{"field":"t"}}},
{"data":{"values":[{"x":32,"y":-400,"t":"θ = 0°"},{"x":32,"y":-488,"t":"θ = 90°"},{"x":-4.5,"y":-764,"t":"(kA/m)"}]},"mark":{"type":"text","fontSize":9.5,"align":"left","color":"#111"},"encoding":{"text":{"field":"t"}}},
{"data":{"values":[{"x":-14.5,"y":-764,"t":"H"}]},"mark":{"type":"text","fontSize":10,"fontStyle":"italic","align":"left","color":"#111"},"encoding":{"text":{"field":"t"}}},
{"data":{"values":[{"x":-9,"y":-785,"t":"a"}]},"mark":{"type":"text","fontSize":6.5,"fontStyle":"italic","align":"left","color":"#111"},"encoding":{"text":{"field":"t"}}},
{"data":{"values":[{"x":-96,"y":-100,"t":"M"}]},"mark":{"type":"text","fontSize":10,"fontStyle":"italic","align":"left","angle":270,"color":"#111"},"encoding":{"text":{"field":"t"}}},
{"data":{"values":[{"x":-96,"y":-33,"t":"(kA/m)"}]},"mark":{"type":"text","fontSize":9.5,"align":"left","angle":270,"color":"#111"},"encoding":{"text":{"field":"t"}}},
{"data":{"values":[{"x":73,"y":-838,"t":"(b)"}]},"mark":{"type":"text","font":"Liberation Serif","fontSize":16,"align":"center","color":"#111"},"encoding":{"text":{"field":"t"}}}
]},
{"width":181,"height":275,
"encoding":{"x":{"field":"x","type":"quantitative","scale":{"domain":[0.623,10.38],"nice":false,"zero":false},"axis":null},"y":{"field":"y","type":"quantitative","scale":{"domain":[-3.37,13.03],"nice":false,"zero":false,"reverse":true},"axis":null}},
"layer":[
{"data":{"name":"db"},"transform":[{"lookup":"k","from":{"data":{"name":"kinds"},"key":"k","fields":["h","t","u"]}},{"flatten":["h","t","u"]}],"mark":{"type":"arc","outerRadius":7.4,"strokeWidth":0.4},"encoding":{"theta":{"field":"t","type":"quantitative","stack":null,"scale":{"domain":[0,360],"range":[0,6.28319]}},"theta2":{"field":"u"},"color":{"field":"h","type":"quantitative","legend":null,"scale":{"domain":[0,60,120,180,240,300,360],"range":["#0000ff","#00ffff","#00ff00","#ffff00","#ff0000","#ff00ff","#0000ff"]}},"stroke":{"field":"h","type":"quantitative","legend":null,"scale":{"domain":[0,60,120,180,240,300,360],"range":["#0000ff","#00ffff","#00ff00","#ffff00","#ff0000","#ff00ff","#0000ff"]}}}},
{"data":{"values":[{"x":0.623,"x2":4.4,"y":12.13},{"x":6.77,"x2":10.38,"y":12.13}]},"mark":{"type":"rule","color":"#333","strokeWidth":1},"encoding":{"x2":{"field":"x2"}}},
{"data":{"values":[{"x":0.623,"y":12.13}]},"mark":{"type":"point","shape":"M1,-1L0,0L1,1","size":20,"color":"#333","opacity":1}},
{"data":{"values":[{"x":10.38,"y":12.13}]},"mark":{"type":"point","shape":"M-1,-1L0,0L-1,1","size":20,"color":"#333","opacity":1}},
{"data":{"values":[{"x":5.57,"y":12.13,"t":"4.8  µm"}]},"mark":{"type":"text","fontSize":11.5,"color":"#222"},"encoding":{"text":{"field":"t"}}},
{"data":{"values":[{"x":5.15,"y":-0.09,"t":"Sample #B"}]},"mark":{"type":"text","fontSize":10,"fontWeight":"bold","color":"#111"},"encoding":{"text":{"field":"t"}}},
{"data":{"values":[{"x":2.13,"x2":8.71,"y":12.97,"y2":13.74}]},"mark":{"type":"rect","stroke":"#333","strokeWidth":0.6,"color":{"gradient":"linear","x1":0,"y1":0,"x2":1,"y2":0,"stops":[{"offset":0,"color":"#0000ff"},{"offset":0.1667,"color":"#00ffff"},{"offset":0.3333,"color":"#00ff00"},{"offset":0.5,"color":"#ffff00"},{"offset":0.6667,"color":"#ff0000"},{"offset":0.8333,"color":"#ff00ff"},{"offset":1,"color":"#0000ff"}]}},"encoding":{"x2":{"field":"x2"},"y2":{"field":"y2"}}},
{"data":{"values":[{"x":2.13,"y":14.12,"t":"0"},{"x":3.56,"y":14.12,"t":"90"},{"x":5.2,"y":14.12,"t":"180"},{"x":6.87,"y":14.12,"t":"270"},{"x":8.71,"y":14.12,"t":"360"}]},"mark":{"type":"text","fontSize":10,"color":"#111"},"encoding":{"text":{"field":"t"}}}
]}
]},
{"spacing":0,"bounds":"flush","vconcat":[
{"width":180,"height":9,"data":{"values":[{"x":0}]},"mark":{"type":"point","opacity":0},"encoding":{"x":{"field":"x","type":"quantitative","axis":null}}},
{"width":180,"height":145,"view":{"stroke":"#000"},
"encoding":{"x":{"field":"x","type":"quantitative","scale":{"domain":[-75,75],"nice":false,"zero":false},"axis":{"values":[-75,-50,-25,0,25,50,75]}},"y":{"field":"y","type":"quantitative","scale":{"domain":[-600,600],"nice":false,"zero":false},"axis":{"values":[-600,-400,-200,0,200,400,600]}}},
"layer":[
{"data":{"name":"mx"},"mark":{"type":"rule","color":"#000"},"encoding":{"y2":{"field":"y2"}}},
{"data":{"name":"my"},"mark":{"type":"rule","color":"#000"},"encoding":{"x2":{"field":"x2"}}},
{"data":{"values":[{"x":0,"y":-600,"y2":600}]},"mark":{"type":"rule","color":"#444","strokeWidth":1},"encoding":{"y2":{"field":"y2"}}},
{"data":{"values":[{"x":-75,"y":0,"x2":75}]},"mark":{"type":"rule","color":"#444","strokeWidth":1},"encoding":{"x2":{"field":"x2"}}},
{"data":{"name":"cc"},"transform":[{"filter":"datum.s=='r'"}],"mark":{"type":"line","color":"#f33","strokeWidth":1.1},"encoding":{"detail":{"field":"b"}}},
{"data":{"name":"cc"},"transform":[{"filter":"datum.s=='l'"}],"mark":{"type":"line","color":"#22f","strokeWidth":1.1},"encoding":{"detail":{"field":"b"}}},
{"data":{"name":"cc"},"transform":[{"filter":"datum.s=='m'"}],"mark":{"type":"line","color":"#000","strokeWidth":1.1,"strokeDash":[1.5,1.5]},"encoding":{"detail":{"field":"b"}}},
{"data":{"values":[{"x":16,"x2":30.5,"y":-125}]},"mark":{"type":"rule","color":"#000","strokeWidth":1.1,"strokeDash":[1.5,1.5]},"encoding":{"x2":{"field":"x2"}}},
{"data":{"values":[{"x":16,"x2":30.5,"y":-390}]},"mark":{"type":"rule","color":"#f33","strokeWidth":1.1},"encoding":{"x2":{"field":"x2"}}},
{"data":{"values":[{"x":16,"x2":30.5,"y":-481}]},"mark":{"type":"rule","color":"#22f","strokeWidth":1.1},"encoding":{"x2":{"field":"x2"}}},
{"data":{"values":[{"x":-66,"y":490,"t":"Sample #C"},{"x":34,"y":-125,"t":"Measure"},{"x":16,"y":-300,"t":"Model"}]},"mark":{"type":"text","fontWeight":"bold","fontSize":10,"align":"left","color":"#111"},"encoding":{"text":{"field":"t"}}},
{"data":{"values":[{"x":33,"y":-390,"t":"θ = 0°"},{"x":33,"y":-481,"t":"θ = 90°"},{"x":-4.5,"y":-764,"t":"(kA/m)"}]},"mark":{"type":"text","fontSize":9.5,"align":"left","color":"#111"},"encoding":{"text":{"field":"t"}}},
{"data":{"values":[{"x":-15.5,"y":-764,"t":"H"}]},"mark":{"type":"text","fontSize":10,"fontStyle":"italic","align":"left","color":"#111"},"encoding":{"text":{"field":"t"}}},
{"data":{"values":[{"x":-10,"y":-785,"t":"a"}]},"mark":{"type":"text","fontSize":6.5,"fontStyle":"italic","align":"left","color":"#111"},"encoding":{"text":{"field":"t"}}},
{"data":{"values":[{"x":-96,"y":-100,"t":"M"}]},"mark":{"type":"text","fontSize":10,"fontStyle":"italic","align":"left","angle":270,"color":"#111"},"encoding":{"text":{"field":"t"}}},
{"data":{"values":[{"x":-96,"y":-33,"t":"(kA/m)"}]},"mark":{"type":"text","fontSize":9.5,"align":"left","angle":270,"color":"#111"},"encoding":{"text":{"field":"t"}}},
{"data":{"values":[{"x":72.5,"y":-835,"t":"(c)"}]},"mark":{"type":"text","font":"Liberation Serif","fontSize":16,"align":"center","color":"#111"},"encoding":{"text":{"field":"t"}}}
]},
{"width":180,"height":273,
"encoding":{"x":{"field":"x","type":"quantitative","scale":{"domain":[0.606,10.324],"nice":false,"zero":false},"axis":null},"y":{"field":"y","type":"quantitative","scale":{"domain":[-3.226,13.09],"nice":false,"zero":false,"reverse":true},"axis":null}},
"layer":[
{"data":{"name":"dc"},"transform":[{"lookup":"k","from":{"data":{"name":"kinds"},"key":"k","fields":["h","t","u"]}},{"flatten":["h","t","u"]}],"mark":{"type":"arc","outerRadius":8.2,"strokeWidth":0.4},"encoding":{"theta":{"field":"t","type":"quantitative","stack":null,"scale":{"domain":[0,360],"range":[0,6.28319]}},"theta2":{"field":"u"},"color":{"field":"h","type":"quantitative","legend":null,"scale":{"domain":[0,60,120,180,240,300,360],"range":["#0000ff","#00ffff","#00ff00","#ffff00","#ff0000","#ff00ff","#0000ff"]}},"stroke":{"field":"h","type":"quantitative","legend":null,"scale":{"domain":[0,60,120,180,240,300,360],"range":["#0000ff","#00ffff","#00ff00","#ffff00","#ff0000","#ff00ff","#0000ff"]}}}},
{"data":{"values":[{"x":0.65,"x2":4.33,"y":12.19},{"x":6.76,"x2":10.32,"y":12.19}]},"mark":{"type":"rule","color":"#333","strokeWidth":1},"encoding":{"x2":{"field":"x2"}}},
{"data":{"values":[{"x":0.65,"y":12.19}]},"mark":{"type":"point","shape":"M1,-1L0,0L1,1","size":20,"color":"#333","opacity":1}},
{"data":{"values":[{"x":10.32,"y":12.19}]},"mark":{"type":"point","shape":"M-1,-1L0,0L-1,1","size":20,"color":"#333","opacity":1}},
{"data":{"values":[{"x":5.56,"y":12.19,"t":"7.8  µm"}]},"mark":{"type":"text","fontSize":11.5,"color":"#222"},"encoding":{"text":{"field":"t"}}},
{"data":{"values":[{"x":5.46,"y":-0.14,"t":"Sample #C"}]},"mark":{"type":"text","fontSize":10,"fontWeight":"bold","color":"#111"},"encoding":{"text":{"field":"t"}}},
{"data":{"values":[{"x":10.05,"y":13.63,"t":"(d)"}]},"mark":{"type":"text","font":"Liberation Serif","fontSize":16,"color":"#111"},"encoding":{"text":{"field":"t"}}}
]}
]}
],
"spacing":14,"resolve":{"scale":{"color":"independent","stroke":"independent"},"legend":{"color":"independent"}}
}
